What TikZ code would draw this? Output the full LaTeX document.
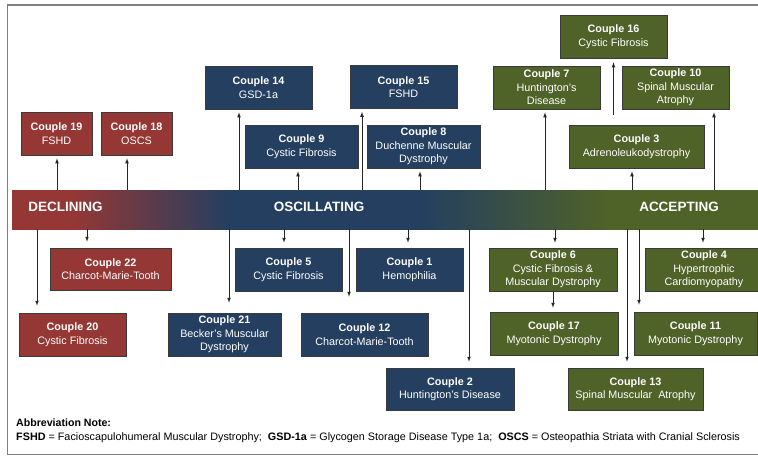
\documentclass[tikz,border=0pt]{standalone}
\usepackage{fontspec}
\setmainfont{Liberation Sans}
\usetikzlibrary{arrows}
\usetikzlibrary{positioning}

\definecolor{declred}{HTML}{953735}
\definecolor{oscblue}{HTML}{243F60}
\definecolor{accgreen}{HTML}{4F6228}
\definecolor{boxline}{HTML}{3A3A3A}
\definecolor{framegray}{HTML}{7F7F7F}

\pgfdeclarehorizontalshading{stagebar}{100bp}{color(0bp)=(declred); color(29bp)=(declred); color(39.6bp)=(oscblue); color(52.3bp)=(oscblue); color(65bp)=(accgreen); color(100bp)=(accgreen)}

\tikzset{
  box/.style={draw=boxline, line width=0.7pt, text=white, align=center,
    inner sep=1pt, minimum height=43pt, font=\fontsize{10.8}{13.5}\selectfont},
  declbox/.style={box, fill=declred},
  oscbox/.style={box, fill=oscblue},
  accbox/.style={box, fill=accgreen},
  stagelabel/.style={text=white, font=\fontsize{13.5}{16}\selectfont\bfseries},
  arr/.style={-latex, line width=0.7pt, draw=black!85, shorten >=3pt},
  notetext/.style={anchor=west, inner sep=0pt, font=\fontsize{10.8}{12}\selectfont},
}

\begin{document}
\begin{tikzpicture}[x=1pt, y=-1pt]
\useasboundingbox (0,0) rectangle (758,456);
\draw[framegray, line width=1.2pt] (758,5) -- (7.5,5) -- (7.5,454.5) -- (758,454.5);

% stages
\node[shade, shading=stagebar, minimum width=746pt, minimum height=39pt, inner sep=0pt] (stage) at (385,209.5) {};
\node[stagelabel] (decl) at (65.5,207) {DECLINING};
\node[stagelabel] (osc) at (319,207) {OSCILLATING};
\node[stagelabel] (acc) at (679,207) {ACCEPTING};

% declining
\node[declbox, minimum width=71pt] (c19) at (56.5,133.5) {\textbf{Couple 19}\\FSHD};
\node[declbox, minimum width=71pt] (c18) at (136.5,133.5) {\textbf{Couple 18}\\OSCS};
\node[declbox, minimum width=121pt, minimum height=42pt] (c22) at (110.5,269) {\textbf{Couple 22}\\Charcot-Marie-Tooth};
\node[declbox, minimum width=107pt] (c20) at (72.5,334.5) {\textbf{Couple 20}\\Cystic Fibrosis};

% oscillating
\node[oscbox, minimum width=107pt] (c14) at (258.5,87.5) {\textbf{Couple 14}\\GSD-1a};
\node[oscbox, minimum width=107pt] (c15) at (403.5,87) {\textbf{Couple 15}\\FSHD};
\node[oscbox, minimum width=113pt] (c9) at (301.5,146.5) {\textbf{Couple 9}\\Cystic Fibrosis};
\node[oscbox, minimum width=113pt] (c8) at (423.5,146.5) {\textbf{Couple 8}\\Duchenne Muscular\\Dystrophy};
\node[oscbox, minimum width=107pt] (c5) at (288.5,269.5) {\textbf{Couple 5}\\Cystic Fibrosis};
\node[oscbox, minimum width=107pt] (c1) at (409.5,269.5) {\textbf{Couple 1}\\Hemophilia};
\node[oscbox, minimum width=113pt] (c21) at (224.5,334.5) {\textbf{Couple 21}\\Becker's Muscular\\Dystrophy};
\node[oscbox, minimum width=127pt] (c12) at (364.5,334.5) {\textbf{Couple 12}\\Charcot-Marie-Tooth};
\node[oscbox, minimum width=128pt, minimum height=42pt] (c2) at (450,389) {\textbf{Couple 2}\\Huntington's Disease};

% accepting
\node[accbox, minimum width=107pt] (c16) at (613.5,36.5) {\textbf{Couple 16}\\Cystic Fibrosis};
\node[accbox, minimum width=107pt] (c7) at (546.5,87.5) {\textbf{Couple 7}\\Huntington's\\Disease};
\node[accbox, minimum width=107pt] (c10) at (675.5,87.5) {\textbf{Couple 10}\\Spinal Muscular\\Atrophy};
\node[accbox, minimum width=135pt] (c3) at (636.5,146.5) {\textbf{Couple 3}\\Adrenoleukodystrophy};
\node[accbox, minimum width=128pt] (c6) at (553,269.5) {\textbf{Couple 6}\\Cystic Fibrosis \&\\Muscular Dystrophy};
\node[accbox, minimum width=118pt] (c4) at (704,269.5) {\textbf{Couple 4}\\Hypertrophic\\Cardiomyopathy};
\node[accbox, minimum width=128pt] (c17) at (554,333.5) {\textbf{Couple 17}\\Myotonic Dystrophy};
\node[accbox, minimum width=123pt] (c11) at (695.5,333.5) {\textbf{Couple 11}\\Myotonic Dystrophy};
\node[accbox, minimum width=135pt, minimum height=42pt] (c13) at (635.5,389) {\textbf{Couple 13}\\Spinal Muscular~~Atrophy};

% arrows up and down from the stage bar
\foreach \x/\n in {57/c19,127/c18,239/c14,298/c9,362/c15,420/c8,545/c7,632/c3,714/c10}
  \draw[arr] ({\x},0 |- stage.north) -- ({\x},0 |- \n.south);
\foreach \x/\n/\s in {37/c20/7,87/c22/6,229/c21/10,284/c5/5,349/c12/16,408/c1/5,469/c2/6,555/c6/5,627/c13/6,639/c11/7,703/c4/5}
  \draw[arr, shorten >=\s pt] ({\x},0 |- stage.south) -- ({\x},0 |- \n.north);
\draw[arr, shorten >=4pt] (c6.south) -- (c6.south |- c17.north);
\draw[arr, shorten <=10pt, shorten >=4pt] (c3.north -| c16.south) -- (c16.south);

% note
\node[notetext, font=\fontsize{10.6}{12}\selectfont\bfseries] (note) at (16,423) {Abbreviation Note:};
\node[notetext] (abbr) at (16,437.5)
  {\textbf{FSHD} = Facioscapulohumeral Muscular Dystrophy;\ \ \textbf{GSD-1a} = Glycogen Storage Disease Type 1a;\ \ \textbf{OSCS} = Osteopathia Striata with Cranial Sclerosis};
\end{tikzpicture}
\end{document}
